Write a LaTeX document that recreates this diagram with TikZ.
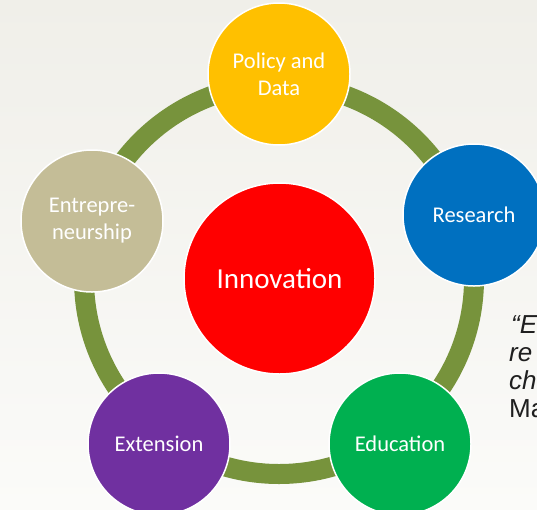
\documentclass[tikz,border=0pt]{standalone}
\usepackage{fontspec}
\setmainfont{Carlito}
\newfontfamily\quotefont{Liberation Sans}

\definecolor{ringgreen}{HTML}{77933C}
\definecolor{policyyellow}{HTML}{FFC000}
\definecolor{researchblue}{HTML}{0070C0}
\definecolor{educationgreen}{HTML}{00B050}
\definecolor{extensionpurple}{HTML}{7030A0}
\definecolor{entretan}{HTML}{C4BD97}
\definecolor{innovred}{HTML}{FF0000}
\definecolor{paper}{HTML}{F0EFE9}
\definecolor{paperlight}{HTML}{FBFBF9}

\tikzset{
  petal/.style={circle, draw=white, line width=1.5pt, minimum size=142pt, inner sep=0pt,
    text=white, align=center, font=\fontsize{22.5}{27}\selectfont},
  ring/.style={draw=ringgreen, line width=20pt},
  quote/.style={anchor=base west, inner sep=0pt, text=black!88,
    font=\quotefont\fontsize{26}{30}\selectfont}
}

\begin{document}
\begin{tikzpicture}[x=1pt,y=-1pt]
\useasboundingbox (0,0) rectangle (537,509);
\clip (0,0) rectangle (537,509);
\fill[top color=paper, bottom color=paperlight] (0,0) rectangle (537,509);

% ring behind the circles
\coordinate (hub) at (279,279);
\draw[ring] (hub) circle (195pt);

\node[petal, fill=policyyellow] (policy) at (279,74) {Policy and\\Data};
\node[petal, fill=researchblue] (research) at (474,215) {Research};
\node[petal, fill=educationgreen] (education) at (400,444) {Education};
\node[petal, fill=extensionpurple] (extension) at (159,444) {Extension};
\node[petal, fill=entretan] (entre) at (92,221) {Entrepre-\\neurship};

\node[petal, fill=innovred, minimum size=191pt, font=\fontsize{29}{35}\selectfont] (innov) at (279.5,278.5) {Innovation};

% quote on the right, cut by the page edge
\node[quote] (qa) at (511,333) {\itshape “E};
\node[quote] (qb) at (509,361) {\itshape re};
\node[quote] (qc) at (509,389) {\itshape ch};
\node[quote] (qd) at (509,417) {Ma};
\end{tikzpicture}
\end{document}
